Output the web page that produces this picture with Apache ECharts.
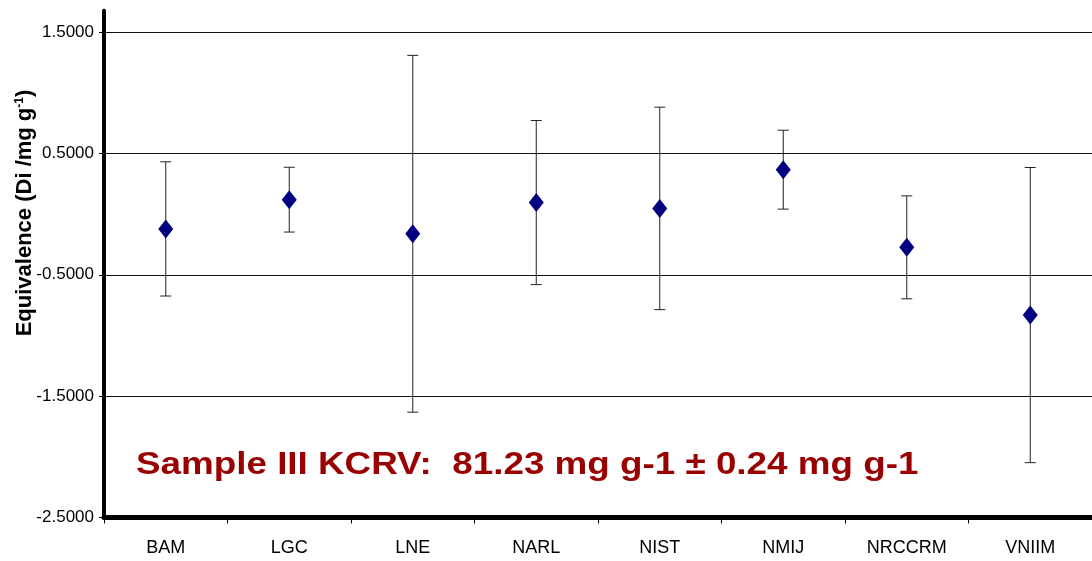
<!DOCTYPE html>
<html>
<head>
<meta charset="utf-8">
<script src="https://cdn.jsdelivr.net/npm/echarts@6/dist/echarts.min.js"></script>
<style>
html,body{margin:0;padding:0;background:#fff;}
#chart{width:1092px;height:561px;}
</style>
</head>
<body>
<div id="chart"></div>
<script>
const categories = ['BAM','LGC','LNE','NARL','NIST','NMIJ','NRCCRM','VNIIM'];
const values = [-0.122, 0.119, -0.162, 0.095, 0.047, 0.366, -0.274, -0.832];
const uncertainties = [0.553, 0.267, 1.470, 0.676, 0.834, 0.325, 0.424, 1.216];
const yTicks = [-2.5, -1.5, -0.5, 0.5, 1.5];
const yTitle = 'Equivalence (Di /mg g{sup|-1})';
const note = 'Sample III KCRV:  81.23 mg g-1 \u00b1 0.24 mg g-1';

const errData = categories.map((c, i) => [i, values[i] - uncertainties[i], values[i] + uncertainties[i]]);
const ptData = categories.map((c, i) => [i, values[i]]);

const chart = echarts.init(document.getElementById('chart'), null, {renderer: 'canvas'});
const FONT = 'Liberation Sans, Arial, sans-serif';
chart.setOption({
  animation: false,
  backgroundColor: '#fff',
  grid: {left: 104, top: 10.7, right: -12, bottom: 43.5, containLabel: false},
  xAxis: {
    type: 'category',
    data: categories,
    boundaryGap: true,
    axisLine: {onZero: false, lineStyle: {color: '#000', width: 5}},
    axisTick: {show: true, length: 6, interval: 0, lineStyle: {color: '#000', width: 1}},
    axisLabel: {color: '#000', fontFamily: FONT, fontSize: 18, margin: 22, interval: 0},
    splitLine: {show: false}
  },
  yAxis: {
    type: 'value',
    min: -2.5,
    max: 1.676,
    interval: 1,
    axisLine: {show: true, lineStyle: {color: '#000', width: 4}},
    axisTick: {show: true, length: 5, lineStyle: {color: '#000', width: 1}},
    axisLabel: {
      color: '#000', fontFamily: FONT, fontSize: 17, margin: 10,
      showMaxLabel: false,
      formatter: v => yTicks.indexOf(Math.round(v * 10) / 10) >= 0 ? v.toFixed(4) : ''
    },
    splitLine: {show: true, showMaxLine: false, lineStyle: {color: '#111', width: 1}}
  },
  series: [
    {
      type: 'custom',
      data: errData,
      z: 2,
      renderItem: function (params, api) {
        const x = api.value(0);
        const lo = api.coord([x, api.value(1)]);
        const hi = api.coord([x, api.value(2)]);
        const hw = 5.5;
        const st = {stroke: '#222', lineWidth: 1};
        return {
          type: 'group',
          children: [
            {type: 'line', shape: {x1: lo[0], y1: lo[1], x2: hi[0], y2: hi[1]}, style: st},
            {type: 'line', shape: {x1: lo[0] - hw, y1: lo[1], x2: lo[0] + hw, y2: lo[1]}, style: st},
            {type: 'line', shape: {x1: hi[0] - hw, y1: hi[1], x2: hi[0] + hw, y2: hi[1]}, style: st}
          ]
        };
      }
    },
    {
      type: 'scatter',
      data: ptData,
      z: 3,
      symbol: 'diamond',
      symbolSize: [15, 19],
      itemStyle: {color: '#000080', opacity: 1}
    }
  ],
  graphic: [
    {
      type: 'text',
      x: 136,
      y: 449,
      scaleX: 1.15,
      style: {text: note, fill: '#990000', font: 'bold 32px ' + FONT, textVerticalAlign: 'top', textAlign: 'left'}
    },
    {
      type: 'text',
      x: 25,
      y: 213,
      rotation: Math.PI / 2,
      style: {
        text: yTitle, fill: '#000', font: 'bold 22px ' + FONT,
        textAlign: 'center', textVerticalAlign: 'middle',
        rich: {sup: {fontSize: 12, fontWeight: 'bold', fontFamily: FONT, fill: '#000', padding: [0, 0, 10, 0]}}
      }
    }
  ]
});
</script>
</body>
</html>
